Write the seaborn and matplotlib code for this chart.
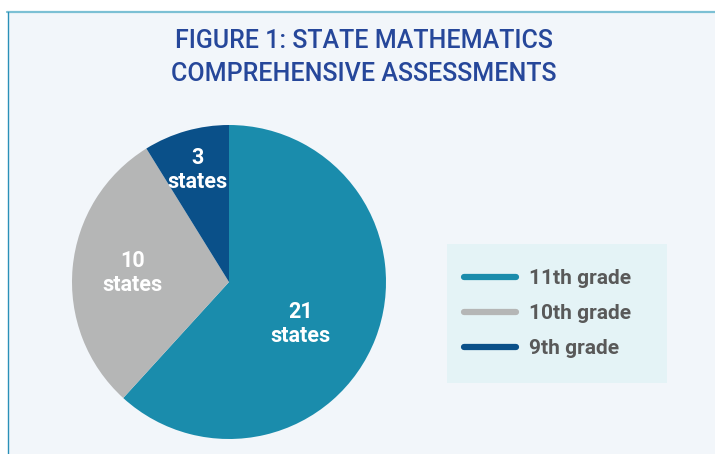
import numpy as np
import matplotlib.pyplot as plt
from matplotlib.lines import Line2D
from matplotlib.patches import Rectangle
import seaborn as sns

# dados do gráfico
grades = ["11th grade", "10th grade", "9th grade"]
states = [21, 10, 3]
slice_labels = ["21\nstates", "10\nstates", "3\nstates"]

# posição dos rótulos dentro das fatias (raio relativo, desvio angular)
label_dist = [0.53, 0.62, 0.74]
label_shift = [-9, 0, 0]

cores = sns.color_palette(["#1a8cac", "#b5b6b6", "#0a5089"])

sns.set_style("white")
plt.rcParams["font.family"] = ["Roboto", "DejaVu Sans"]

W, H = 715, 454
fig = plt.figure(figsize=(W / 100, H / 100), dpi=100)
fig.patch.set_facecolor("white")

# painel de fundo com bordas
fig.patches.append(Rectangle((8 / W, 0), 1, (H - 12) / H, transform=fig.transFigure,
                             facecolor="#f2f6fa", edgecolor="none", zorder=-2))
fig.lines.append(Line2D([7 / W, 1], [1 - 12 / H, 1 - 12 / H], transform=fig.transFigure,
                        color="#7cc0d4", lw=1.6, zorder=-1))
fig.lines.append(Line2D([8 / W, 8 / W], [0, 1 - 12 / H], transform=fig.transFigure,
                        color="#2a90b8", lw=1.0, zorder=-1))

# título
for i, linha in enumerate(["FIGURE 1: STATE MATHEMATICS", "COMPREHENSIVE ASSESSMENTS"]):
    fig.text(364 / W, 1 - (41 + 33 * i) / H, linha, ha="center", va="center",
             fontsize=18, color="#26479a", fontweight="medium")

# pizza
cx, cy, r = 229, 282, 157
ax = fig.add_axes([(cx - r) / W, (H - cy - r) / H, 2 * r / W, 2 * r / H])
ax.set_facecolor("none")
wedges, _ = ax.pie(states, colors=cores, startangle=90, counterclock=False, radius=1,
                   wedgeprops=dict(linewidth=0))
ax.set_xlim(-1, 1)
ax.set_ylim(-1, 1)
ax.set_aspect("equal")
ax.axis("off")

for w, txt, d, s in zip(wedges, slice_labels, label_dist, label_shift):
    ang = np.deg2rad((w.theta1 + w.theta2) / 2 + s)
    ax.text(d * np.cos(ang), d * np.sin(ang), txt, ha="center", va="center",
            color="white", fontsize=15.5, fontweight="bold", linespacing=1.1)

# caixa da legenda
fig.patches.append(Rectangle((447 / W, 1 - 383 / H), 220 / W, 139 / H, transform=fig.transFigure,
                             facecolor="#e4f3f6", edgecolor="none", zorder=-1))
handles = [Line2D([0], [0], color=c, lw=4.5, solid_capstyle="round") for c in cores]
leg = fig.legend(handles, grades, loc="upper left", bbox_to_anchor=(464 / W, 1 - 269 / H),
                 frameon=False, fontsize=15, handlelength=2.5, handletextpad=0.6,
                 labelspacing=0.78, borderpad=0, borderaxespad=0)
for t in leg.get_texts():
    t.set_color("#595959")
    t.set_fontweight("bold")

fig.savefig("out.png", dpi=100, facecolor=fig.get_facecolor())
